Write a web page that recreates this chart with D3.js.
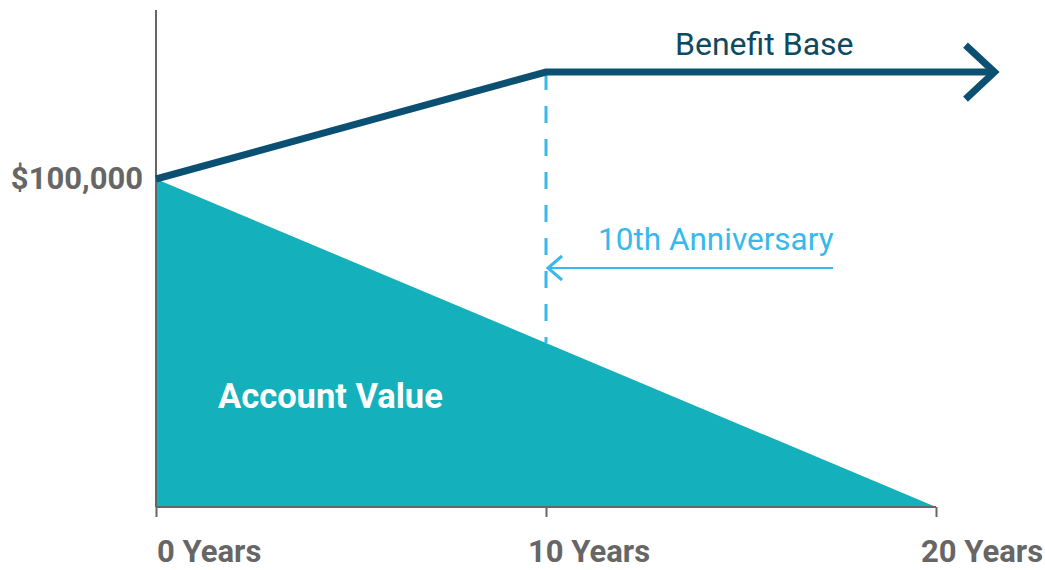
<!DOCTYPE html>
<html>
<head>
<meta charset="utf-8">
<script src="https://cdn.jsdelivr.net/npm/d3@7"></script>
<style>
  body { margin: 0; background: #fff; }
  svg text { font-family: Roboto, "Noto Sans", sans-serif; }
</style>
</head>
<body>
<div class="chart-container"></div>
<script>
// years on the x axis
const tickYears = [0, 10, 20];
const tickLabels = ['0 Years', '10 Years', '20 Years'];

// benefit base: rolls up for 10 years, then stays flat (arrow runs past 20)
const benefitYears = [0, 10, 21.5];
const benefitValues = [100000, 132600, 132600];

// account value: falls to zero by year 20
const accountYears = [0, 10, 20];
const accountValues = [100000, 50000, 0];

const yTicks = [100000];
const anniversaryYear = 10;

const width = 1045;
const height = 570;

const svg = d3.select('.chart-container')
              .append('svg')
              .attr('width', width)
              .attr('height', height);

const xScale = d3.scaleLinear()
                 .domain([0, 20])
                 .range([156, 936]);

const yScale = d3.scaleLinear()
                 .domain([0, 100000])
                 .range([507, 179]);

const teal = '#14b0bb';
const navy = '#0b5072';
const sky = '#38b9ec';
const grey = '#666666';

// account value area
const area = d3.area()
               .x((d, i) => xScale(accountYears[i]))
               .y0(yScale(0))
               .y1(d => yScale(d));

svg.append('path')
   .datum(accountValues)
   .attr('d', area)
   .attr('fill', teal);

// axes
const xAxis = d3.axisBottom(xScale)
                .tickValues(tickYears)
                .tickSize(10)
                .tickFormat('');
svg.append('g')
   .attr('transform', 'translate(0,' + yScale(0) + ')')
   .call(xAxis)
   .call(g => g.select('.domain').remove())
   .call(g => g.selectAll('line').attr('stroke', grey).attr('stroke-width', 2));

svg.append('line')
   .attr('x1', xScale(0)).attr('x2', xScale(20))
   .attr('y1', yScale(0)).attr('y2', yScale(0))
   .attr('stroke', grey).attr('stroke-width', 2);

svg.append('line')
   .attr('x1', xScale(0)).attr('x2', xScale(0))
   .attr('y1', yScale(0)).attr('y2', yScale(151500))
   .attr('stroke', grey).attr('stroke-width', 2);

// tick labels sit a little off their ticks in the original
const labelShift = [1, -18, -15];
svg.selectAll('.xlabel')
   .data(tickLabels)
   .enter()
   .append('text')
   .attr('class', 'xlabel')
   .attr('x', (d, i) => xScale(tickYears[i]) + labelShift[i])
   .attr('y', 562)
   .attr('fill', grey)
   .attr('font-size', 31)
   .attr('font-weight', 'bold')
   .text(d => d);

svg.selectAll('.ylabel')
   .data(yTicks)
   .enter()
   .append('text')
   .attr('class', 'ylabel')
   .attr('x', 143)
   .attr('y', d => yScale(d) + 10)
   .attr('text-anchor', 'end')
   .attr('fill', grey)
   .attr('font-size', 31)
   .attr('font-weight', 'bold')
   .text(d => '$' + d3.format(',')(d));

// dashed anniversary marker
svg.append('line')
   .attr('x1', xScale(anniversaryYear)).attr('x2', xScale(anniversaryYear))
   .attr('y1', yScale(benefitValues[1]) + 1)
   .attr('y2', yScale(accountValues[1]))
   .attr('stroke', sky)
   .attr('stroke-width', 3)
   .attr('stroke-dasharray', '17 16');

// benefit base line
const line = d3.line()
               .x((d, i) => xScale(benefitYears[i]))
               .y(d => yScale(d));

svg.append('path')
   .datum(benefitValues)
   .attr('d', line)
   .attr('fill', 'none')
   .attr('stroke', navy)
   .attr('stroke-width', 7);

const tipX = xScale(benefitYears[2]);
const tipY = yScale(benefitValues[2]);
svg.append('path')
   .attr('d', `M${tipX - 29},${tipY - 27} L${tipX},${tipY} L${tipX - 29},${tipY + 27}`)
   .attr('fill', 'none')
   .attr('stroke', navy)
   .attr('stroke-width', 7);

svg.append('text')
   .attr('x', 675)
   .attr('y', 55)
   .attr('fill', '#0c4a60')
   .attr('font-size', 32)
   .text('Benefit Base');

// 10th anniversary pointer
const ax = xScale(anniversaryYear) + 1;
const ay = 268;
svg.append('line')
   .attr('x1', ax).attr('x2', 833)
   .attr('y1', ay).attr('y2', ay)
   .attr('stroke', sky)
   .attr('stroke-width', 2);

svg.append('path')
   .attr('d', `M${ax + 15},${ay - 12} L${ax + 1},${ay} L${ax + 15},${ay + 12}`)
   .attr('fill', 'none')
   .attr('stroke', sky)
   .attr('stroke-width', 3);

svg.append('text')
   .attr('x', 598)
   .attr('y', 250)
   .attr('fill', sky)
   .attr('font-size', 31.5)
   .text('10th Anniversary');

svg.append('text')
   .attr('x', 218)
   .attr('y', 408)
   .attr('fill', '#fff')
   .attr('font-size', 34.5)
   .attr('font-weight', 'bold')
   .text('Account Value');
</script>
</body>
</html>
